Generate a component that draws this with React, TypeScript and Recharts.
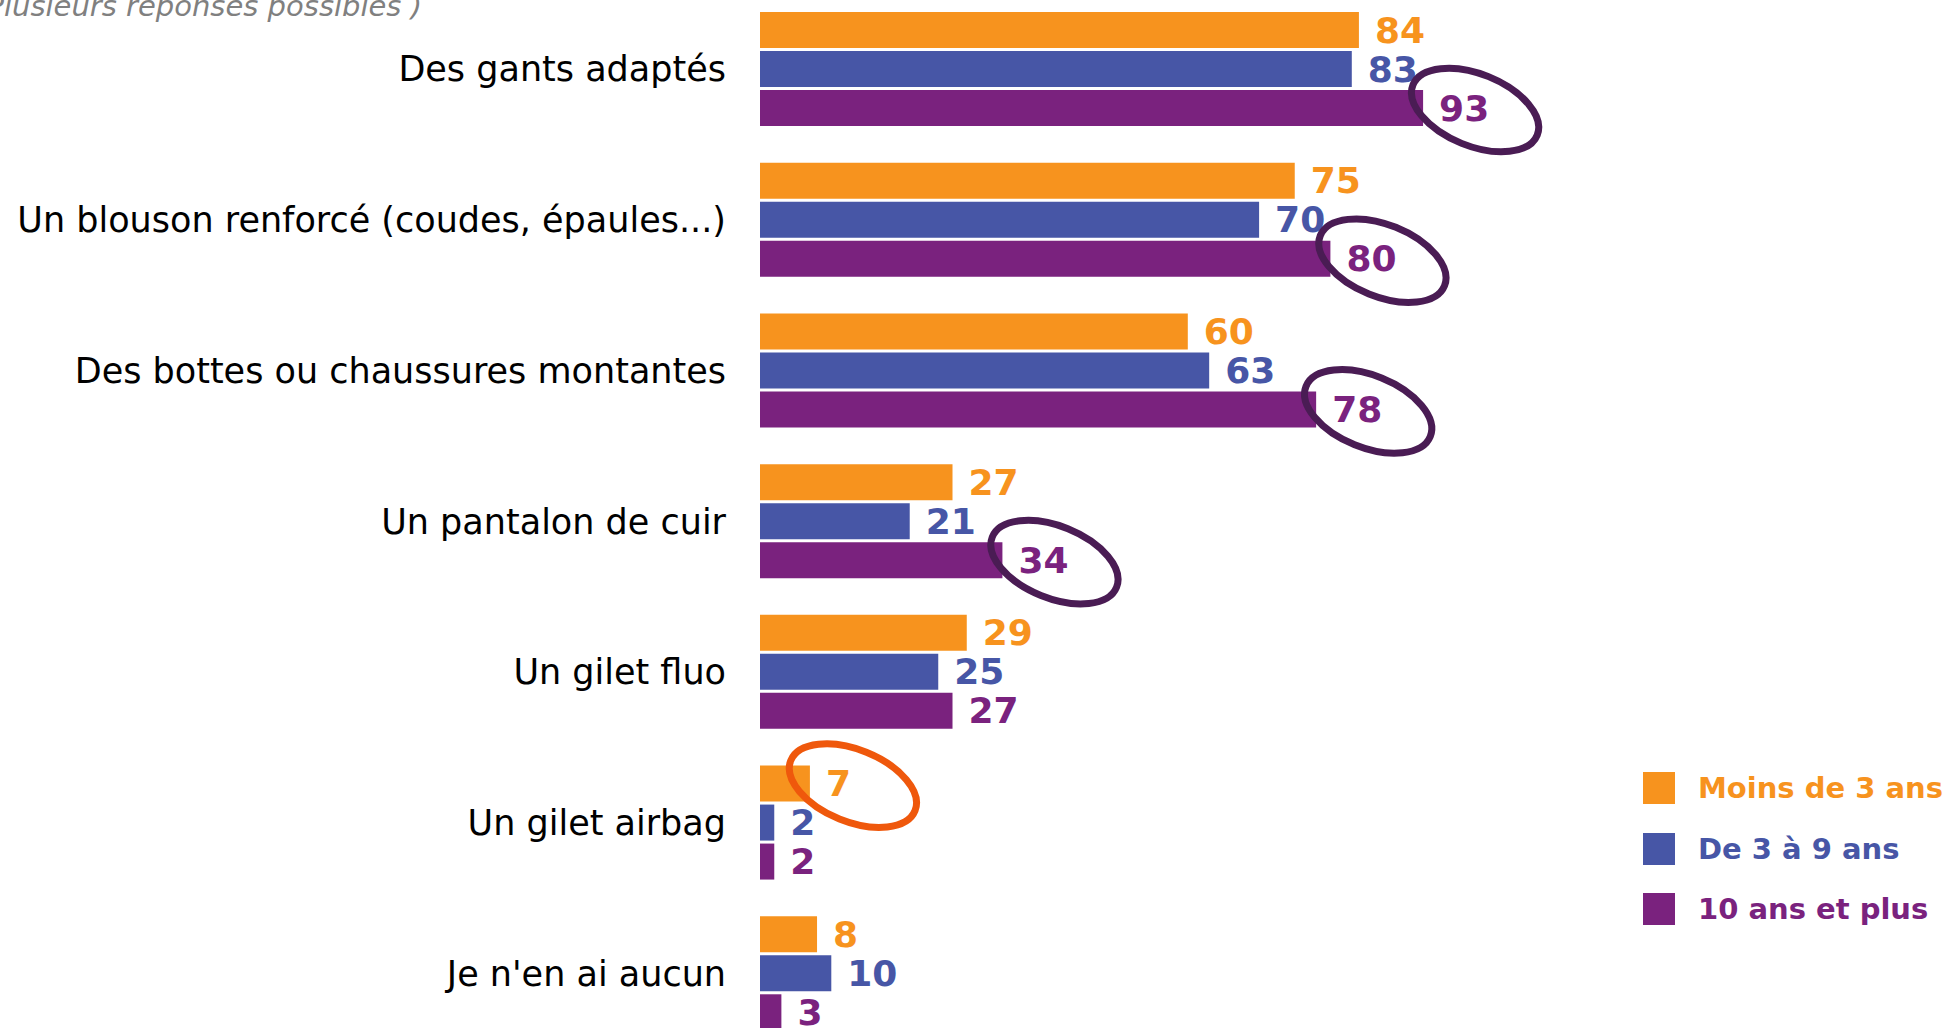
import React from 'react';
import { BarChart, Bar, XAxis, YAxis, LabelList, Legend } from 'recharts';

const categories = [
  'Des gants adaptés',
  'Un blouson renforcé (coudes, épaules...)',
  'Des bottes ou chaussures montantes',
  'Un pantalon de cuir',
  'Un gilet fluo',
  'Un gilet airbag',
  "Je n'en ai aucun",
];
const moins3 = [84, 75, 60, 27, 29, 7, 8];
const de3a9 = [83, 70, 63, 21, 25, 2, 10];
const plus10 = [93, 80, 78, 34, 27, 2, 3];

const seriesNames = ['Moins de 3 ans', 'De 3 à 9 ans', '10 ans et plus'];
const seriesColors = ['#F7931E', '#4756A6', '#7A227E'];

const highlightPlus10 = [
  'Des gants adaptés',
  'Un blouson renforcé (coudes, épaules...)',
  'Des bottes ou chaussures montantes',
  'Un pantalon de cuir',
];
const highlightMoins3 = ['Un gilet airbag'];

const data = categories.map((name, i) => ({
  name,
  moins3: moins3[i],
  de3a9: de3a9[i],
  plus10: plus10[i],
}));

const FONT = '"DejaVu Sans", Verdana, sans-serif';

const makeLabel = (color: string, highlights: string[], ellColor: string, ellDx: number) => (p: any) => {
  const vb = p.viewBox || {};
  const x = p.x ?? vb.x;
  const y = p.y ?? vb.y;
  const w = p.width ?? vb.width;
  const h = p.height ?? vb.height;
  const idx = p.index;
  const cat = idx != null ? categories[idx] : undefined;
  const endX = x + w;
  const cy = y + h / 2;
  const hl = cat != null && highlights.includes(cat);
  return (
    <g>
      <text
        x={endX + 16}
        y={cy}
        dominantBaseline="central"
        fontFamily={FONT}
        fontWeight="bold"
        fontSize={36}
        fill={color}
      >
        {p.value}
      </text>
      {hl && (
        <ellipse
          cx={endX + ellDx}
          cy={cy + 2}
          rx={67}
          ry={36}
          fill="none"
          stroke={ellColor}
          strokeWidth={7}
          transform={`rotate(22 ${endX + ellDx} ${cy + 2})`}
        />
      )}
    </g>
  );
};

const CategoryTick = (props: any) => {
  const { y, payload } = props;
  return (
    <text
      x={726}
      y={y}
      textAnchor="end"
      dominantBaseline="central"
      fontFamily={FONT}
      fontSize={35}
      fill="#000"
    >
      {payload.value}
    </text>
  );
};

const LegendContent = () => (
  <div style={{ fontFamily: FONT }}>
    {seriesNames.map((n, i) => (
      <div key={n} style={{ display: 'flex', alignItems: 'center', height: 60.5 }}>
        <div style={{ width: 32, height: 32, background: seriesColors[i], flex: '0 0 auto' }} />
        <span
          style={{
            marginLeft: 23,
            color: seriesColors[i],
            fontWeight: 'bold',
            fontSize: 29,
            whiteSpace: 'nowrap',
            lineHeight: '32px',
          }}
        >
          {n}
        </span>
      </div>
    ))}
  </div>
);

export default function App() {
  return (
    <div
      style={{
        position: 'absolute',
        left: 0,
        top: 0,
        width: 1946,
        height: 1028,
        overflow: 'hidden',
        background: '#fff',
      }}
    >
      <div style={{ position: 'absolute', left: 0, top: -6 }}>
        <BarChart
          width={1946}
          height={1055}
          data={data}
          layout="vertical"
          margin={{ top: 0, right: 473, bottom: 0, left: 0 }}
          barGap={3}
        >
          <XAxis type="number" domain={[0, 100]} hide />
          <YAxis
            type="category"
            dataKey="name"
            width={760}
            axisLine={false}
            tickLine={false}
            tick={<CategoryTick />}
            interval={0}
          />
          <Legend
            layout="horizontal"
            verticalAlign="middle"
            align="center"
            content={<LegendContent />}
            wrapperStyle={{ position: 'absolute', left: 1643, top: 764, width: 300 }}
          />
          <Bar dataKey="moins3" name={seriesNames[0]} fill={seriesColors[0]} barSize={36} isAnimationActive={false}>
            <LabelList dataKey="moins3" content={makeLabel(seriesColors[0], highlightMoins3, '#EF580C', 43)} />
          </Bar>
          <Bar dataKey="de3a9" name={seriesNames[1]} fill={seriesColors[1]} barSize={36} isAnimationActive={false}>
            <LabelList dataKey="de3a9" content={makeLabel(seriesColors[1], [], '#000', 0)} />
          </Bar>
          <Bar dataKey="plus10" name={seriesNames[2]} fill={seriesColors[2]} barSize={36} isAnimationActive={false}>
            <LabelList dataKey="plus10" content={makeLabel(seriesColors[2], highlightPlus10, '#4A1C54', 52)} />
          </Bar>
        </BarChart>
      </div>
      <svg
        width={1946}
        height={40}
        style={{ position: 'absolute', left: 0, top: 0, pointerEvents: 'none' }}
      >
        <text x={422} y={16} textAnchor="end" fontFamily={FONT} fontStyle="italic" fontSize={29} fill="#808080">
          (Plusieurs réponses possibles )
        </text>
      </svg>
    </div>
  );
}
